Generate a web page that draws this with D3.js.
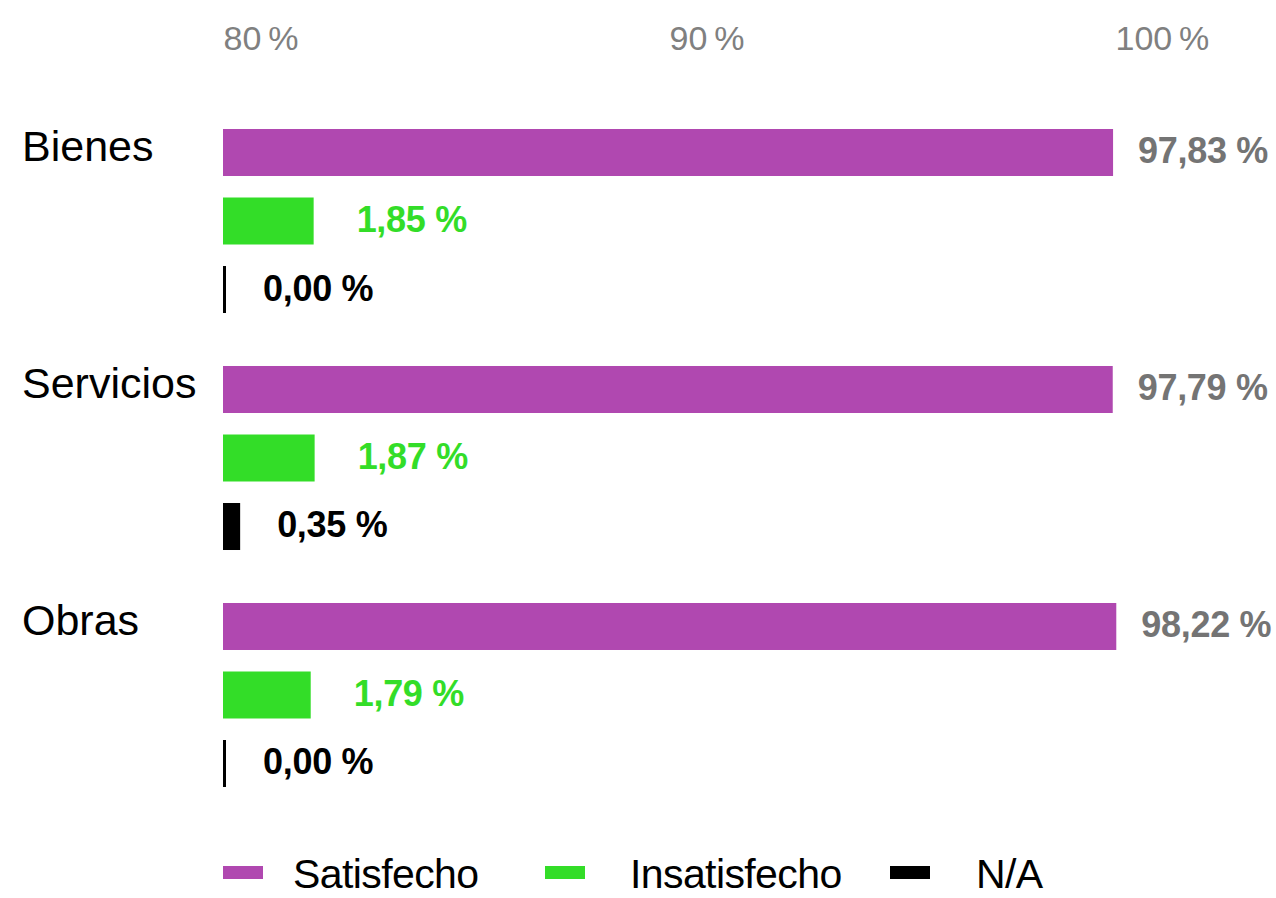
<!DOCTYPE html>
<html>
<head>
<meta charset="utf-8">
<script src="https://cdn.jsdelivr.net/npm/d3@7"></script>
<style>
  html, body { margin: 0; padding: 0; background: #fff; }
  svg { display: block; font-family: "Liberation Sans", Arial, Helvetica, sans-serif; }
</style>
</head>
<body>
<div id="chart"></div>
<script>
// data
const categories = ["Bienes", "Servicios", "Obras"]
const seriesNames = ["Satisfecho", "Insatisfecho", "N/A"]
const satisfecho = [97.83, 97.79, 98.22]
const insatisfecho = [1.85, 1.87, 1.79]
const noAplica = [0.00, 0.35, 0.00]
const axisTicks = [80, 90, 100]

const seriesValues = [satisfecho, insatisfecho, noAplica]
const barColors = ["#b048b0", "#33dd28", "#000000"]
const labelColors = ["#747474", "#33dd28", "#000000"]
const labelGaps = [25, 43, 37]

const width = 1276, height = 898

const svg = d3.select("#chart").append("svg")
  .attr("width", width)
  .attr("height", height)

const locale = d3.formatLocale({ decimal: ",", thousands: ".", grouping: [3], currency: ["", " €"] })
const fmt = locale.format(".2f")
const pct = v => fmt(v) + " %"

// scales
// bars: the small shares get stretched, as in the original
const x = d3.scaleLinear().domain([0, 2, 100]).range([223, 321, 1131])
const xAxisScale = d3.scaleLinear().domain([80, 100]).range([223, 1115])

const y0 = d3.scaleBand().domain(categories).range([129, 787]).paddingInner(0.2236)
const y1 = d3.scaleBand().domain(seriesNames).range([0, y0.bandwidth()]).paddingInner(0.314)

// top axis (labels only)
const axis = svg.append("g")
  .attr("transform", "translate(0,49.5)")
  .call(d3.axisTop(xAxisScale)
    .tickValues(axisTicks)
    .tickFormat(d => d + "\u202F%")
    .tickSize(0)
    .tickPadding(0))
axis.select(".domain").remove()
axis.selectAll("text")
  .attr("text-anchor", "start")
  .attr("fill", "#808080")
  .attr("font-size", 34)
  .attr("font-family", "\"Liberation Sans\", Arial, sans-serif")

// groups
const rows = categories.map((c, i) => ({
  cat: c,
  bars: seriesNames.map((s, j) => ({ series: s, idx: j, value: seriesValues[j][i] }))
}))

const group = svg.append("g").selectAll("g")
  .data(rows)
  .join("g")
  .attr("transform", d => `translate(0,${y0(d.cat)})`)

group.append("text")
  .attr("x", 22)
  .attr("y", 32)
  .attr("font-size", 43)
  .attr("fill", "#000")
  .text(d => d.cat)

const bar = group.selectAll("g.bar")
  .data(d => d.bars)
  .join("g")
  .attr("class", "bar")

bar.append("rect")
  .attr("x", x(0))
  .attr("y", d => y1(d.series))
  .attr("width", d => Math.max(3, x(d.value) - x(0)))
  .attr("height", y1.bandwidth())
  .attr("fill", d => barColors[d.idx])

bar.append("text")
  .attr("x", d => x(0) + Math.max(3, x(d.value) - x(0)) + labelGaps[d.idx])
  .attr("y", d => y1(d.series) + y1.bandwidth() / 2 + 11)
  .attr("font-size", 36)
  .attr("font-weight", "bold")
  .attr("letter-spacing", -0.3)
  .attr("fill", d => labelColors[d.idx])
  .text(d => pct(d.value))

// legend
const legendRectX = [223, 545, 890]
const legendTextX = [293, 630, 976]

const legend = svg.append("g").selectAll("g")
  .data(seriesNames)
  .join("g")

legend.append("rect")
  .attr("x", (d, i) => legendRectX[i])
  .attr("y", 866)
  .attr("width", 40)
  .attr("height", 13)
  .attr("fill", (d, i) => barColors[i])

legend.append("text")
  .attr("x", (d, i) => legendTextX[i])
  .attr("y", 888)
  .attr("font-size", 41)
  .attr("letter-spacing", -0.6)
  .attr("fill", "#000")
  .text(d => d)
</script>
</body>
</html>
